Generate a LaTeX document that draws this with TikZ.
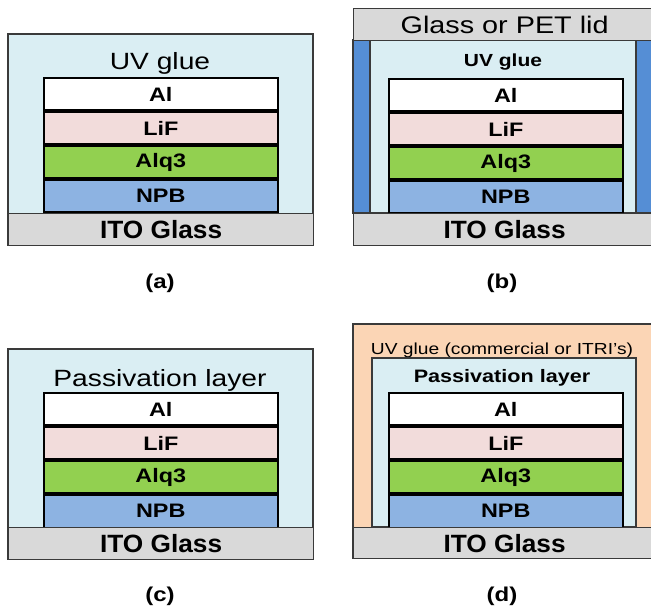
\documentclass[tikz,border=0pt]{standalone}
\usepackage{fontspec}
\setmainfont{Liberation Sans}[FakeStretch=1.2]
\newfontfamily\itofont{Liberation Sans}[FakeStretch=1.05]
\definecolor{glue}{HTML}{DAEEF3}
\definecolor{itogray}{HTML}{D9D9D9}
\definecolor{lifpink}{HTML}{F2DCDB}
\definecolor{alqgreen}{HTML}{92D050}
\definecolor{npbblue}{HTML}{8DB3E2}
\definecolor{barblue}{HTML}{558ED5}
\definecolor{peach}{HTML}{FBD5B5}
\definecolor{bordergray}{HTML}{3A3A3A}
\newcommand\oledstack[3]{%
  \node[layer, fill=white]    (#1al)  at (#2,#3)    {Al};
  \node[layer, fill=lifpink]  (#1lif) at (#2,#3+34) {LiF};
  \node[layer, fill=alqgreen] (#1alq) at (#2,#3+68) {Alq3};
  \node[layer, fill=npbblue]  (#1npb) at (#2,#3+102) {NPB};
}
\begin{document}
\begin{tikzpicture}[x=1pt,y=-1pt,
  box/.style={draw=bordergray, line width=1.3pt},
  layer/.style={draw=black, line width=1.6pt, inner sep=0, anchor=north west,
    minimum width=234pt, minimum height=32.5pt,
    font=\fontsize{19.5}{19.5}\selectfont\bfseries},
  ito/.style={draw=bordergray, line width=1.3pt, fill=itogray, inner sep=0,
    anchor=north west, font=\itofont\fontsize{25}{25}\selectfont\bfseries},
  panellabel/.style={font=\fontsize{20}{20}\selectfont\bfseries},
  txt/.style={inner sep=0}]
\useasboundingbox (0,0) rectangle (651,609);
\clip (0,0) rectangle (651,609);

% ---------- (a) ----------
\path[box, fill=glue] (8,34) rectangle (313,245);
\node[txt, font=\fontsize{23.5}{23.5}\selectfont] (aglue) at (160,63) {UV glue};
\oledstack{a}{43}{77}
\node[ito, minimum width=305pt, minimum height=32pt] (aito) at (8,213) {ITO Glass};
\node[panellabel] (alab) at (160,283) {(a)};

% ---------- (b) ----------
\path[box, fill=barblue] (353,40) rectangle (660,213);
\path[box, fill=glue] (370,40) rectangle (636,213);
\node[ito, minimum width=310pt, minimum height=32pt, font=\fontsize{24}{24}\selectfont] (blid) at (353,8) {\hspace*{-8pt}Glass or PET lid};
\node[txt, font=\fontsize{17.5}{17.5}\selectfont\bfseries] (bglue) at (503,62) {UV glue};
\oledstack{b}{388}{78}
\node[ito, minimum width=310pt, minimum height=32pt] (bito) at (353,213) {\hspace*{-8pt}ITO Glass};
\node[panellabel] (blab) at (502,283) {(b)};

% ---------- (c) ----------
\path[box, fill=glue] (8,349) rectangle (313,559);
\node[txt, font=\fontsize{23.5}{23.5}\selectfont] (cpass) at (160,380) {Passivation layer};
\oledstack{c}{43}{392}
\node[ito, minimum width=305pt, minimum height=32pt] (cito) at (8,527) {ITO Glass};
\node[panellabel] (clab) at (160,596) {(c)};

% ---------- (d) ----------
\path[box, fill=peach] (353,324) rectangle (660,558);
\node[txt, font=\fontsize{16}{16}\selectfont] (dglue) at (502,350) {UV glue (commercial or ITRI's)};
\path[box, fill=glue] (372,358) rectangle (636,527);
\node[txt, font=\fontsize{18}{18}\selectfont\bfseries] (dpass) at (502,378) {Passivation layer};
\oledstack{d}{388}{392}
\node[ito, minimum width=310pt, minimum height=31pt] (dito) at (353,527) {\hspace*{-8pt}ITO Glass};
\node[panellabel] (dlab) at (502,596) {(d)};
\end{tikzpicture}
\end{document}
